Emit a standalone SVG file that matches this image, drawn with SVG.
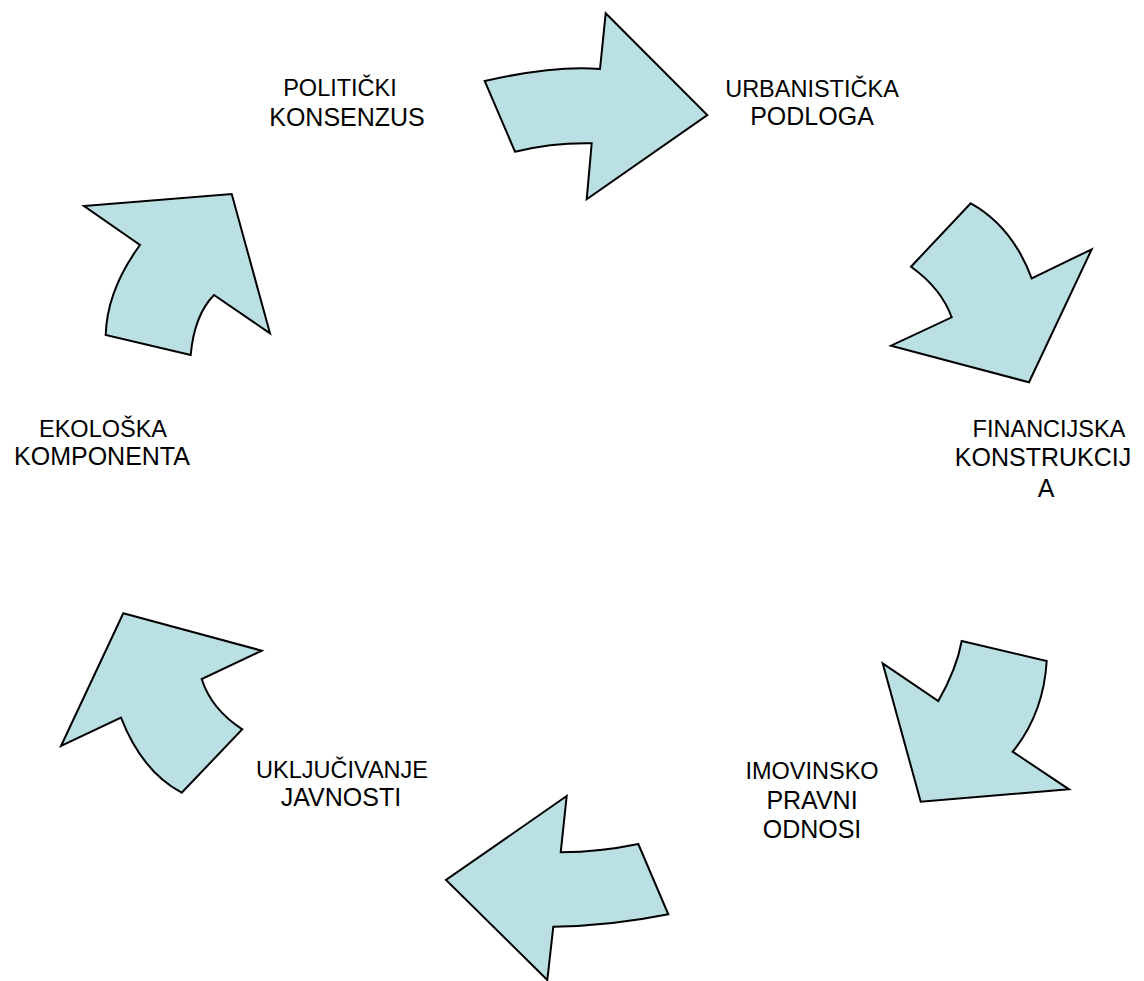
<svg xmlns="http://www.w3.org/2000/svg" width="1144" height="981" viewBox="0 0 1144 981">
<style>
.arr{fill:#BAE0E3;stroke:#000;stroke-width:2;stroke-linejoin:miter}
text{font-family:"Liberation Sans",Arial,sans-serif;fill:#000;text-anchor:middle}
.a{font-size:23.5px}
.b{font-size:25px}
</style>
<rect width="1144" height="981" fill="#fff"/>
<g id="connectors">
<path class="arr" d="M484.7,81 Q555,65 600,69 L605.7,13.3 L707.3,115 L586.7,199.3 L591.7,143.3 Q553,142.5 515,151.7 Z"/>
<path class="arr" d="M970.7,203.3 Q1012,226 1031.7,278.3 L1091.7,249.3 L1029,382.3 L891,345.7 L951.7,317.3 Q941,288 911,266.7 Z"/>
<path class="arr" d="M961.7,641 L1046.7,661 Q1043.6,713.6 1012.7,751.7 L1069,789.3 L920.7,801.7 L882.7,663.3 L938.3,701 Q956.6,669 961.7,641 Z"/>
<path class="arr" d="M566.7,796 L560.7,852.3 Q600,852 638.3,844 L668.3,914.3 Q611,926 553.3,926.7 L547.3,980 L446,880 Z"/>
<path class="arr" d="M123.3,613.3 L261.7,650.7 L201.7,679 Q211.3,709.3 242.3,729.3 L181.7,792.7 Q141.9,771.4 121,717.7 L61,746 Z"/>
<path class="arr" d="M231.7,194 L270,333.3 L214,295 Q194.3,315 190.7,355 L105.7,335 Q107,290 140,245 L84,206 Z"/>
</g>
<g id="n1"><text class="a" x="340" y="96">POLITIČKI</text><text class="b" x="347" y="126">KONSENZUS</text></g>
<g id="n2"><text class="a" x="812" y="97">URBANISTIČKA</text><text class="b" x="812" y="125">PODLOGA</text></g>
<g id="n3"><text class="a" x="1049" y="437">FINANCIJSKA</text><text class="b" x="1043" y="466">KONSTRUKCIJ</text><text class="b" x="1046" y="497">A</text></g>
<g id="n4"><text class="a" x="812" y="779">IMOVINSKO</text><text class="b" x="812" y="809">PRAVNI</text><text class="b" x="812" y="838">ODNOSI</text></g>
<g id="n5"><text class="a" x="342" y="778">UKLJUČIVANJE</text><text class="b" x="341" y="806">JAVNOSTI</text></g>
<g id="n6"><text class="a" x="103" y="437">EKOLOŠKA</text><text class="b" x="102" y="465">KOMPONENTA</text></g>
</svg>
